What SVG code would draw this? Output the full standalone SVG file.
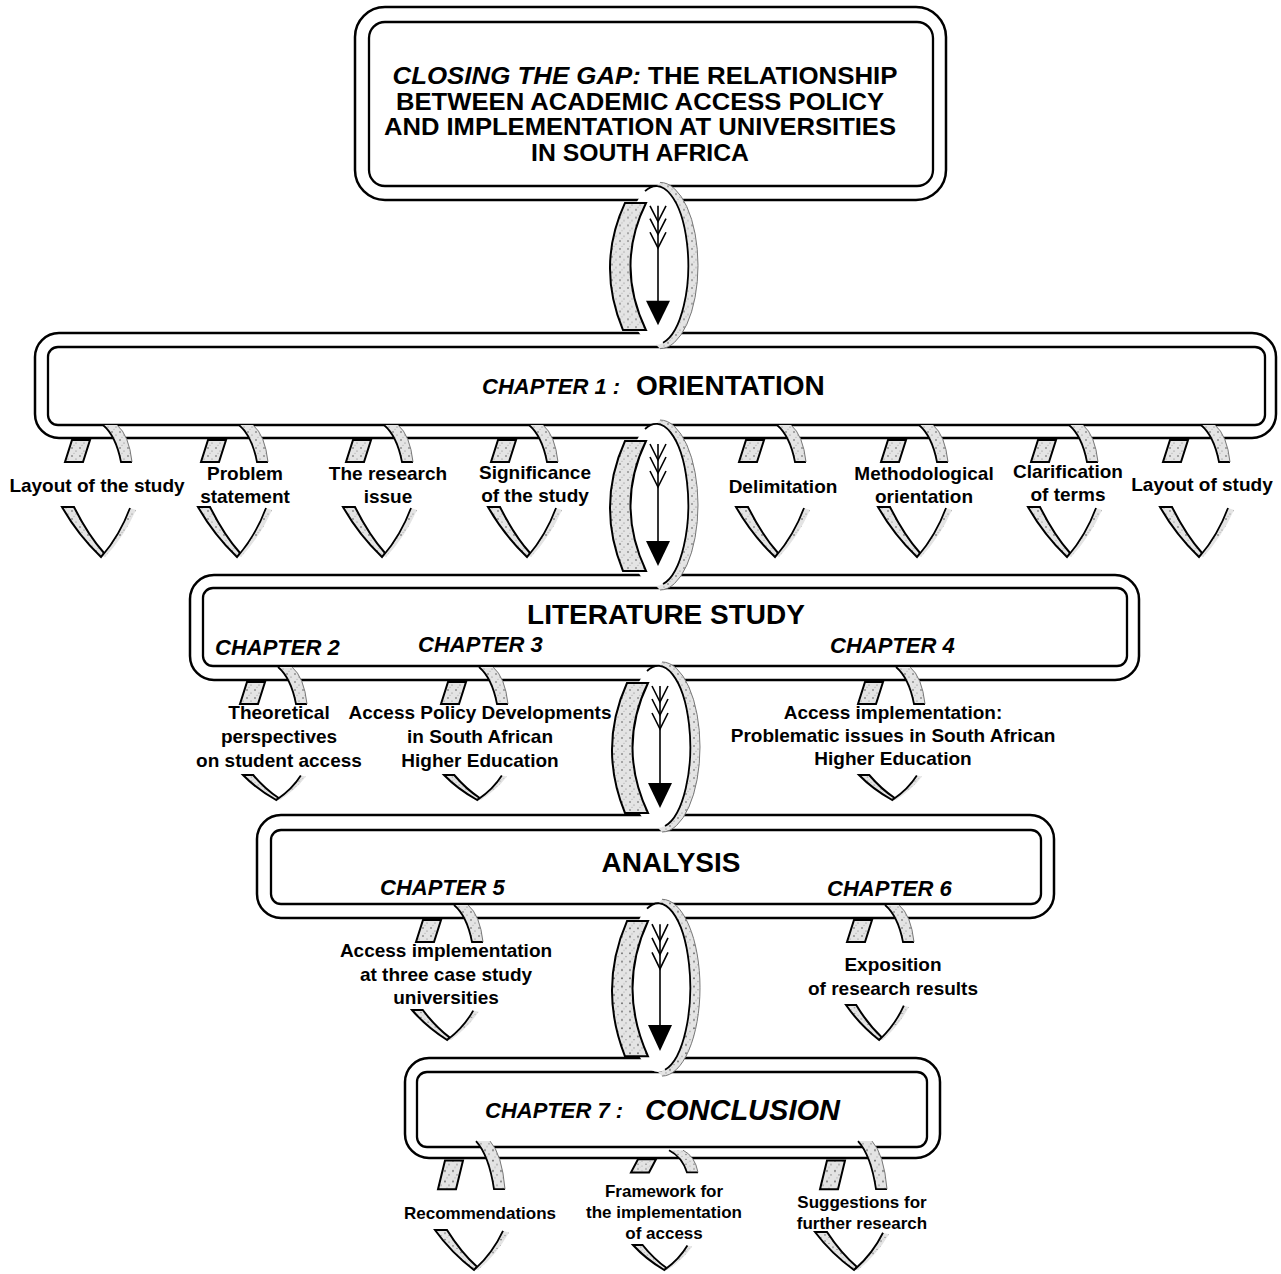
<svg xmlns="http://www.w3.org/2000/svg" xmlns:xlink="http://www.w3.org/1999/xlink" width="1281" height="1274" viewBox="0 0 1281 1274">
<style>
.bo{fill:#fff;stroke:#000;stroke-width:2.5}
.bi{fill:none;stroke:#000;stroke-width:2.3}
.t{font-family:"Liberation Sans",Arial,sans-serif;font-weight:bold;fill:#000}
.i{font-style:italic}
.lb{font-size:19px;text-anchor:middle}
.lc{font-size:17px;text-anchor:middle}
.ch{font-size:22px;font-style:italic}
.tt{font-size:23px;text-anchor:middle}
.sh{fill:url(#st)}
.k{stroke:#000;stroke-width:2;vector-effect:non-scaling-stroke}
.kf{fill:none;stroke:#000;stroke-width:1.8;vector-effect:non-scaling-stroke}
.kg{fill:none;stroke:#777;stroke-width:1;vector-effect:non-scaling-stroke}
</style>
<defs>
<pattern id="st" width="8" height="8" patternUnits="userSpaceOnUse">
<rect width="8" height="8" fill="#e4e4e4"/>
<circle cx="2" cy="2" r="0.8" fill="#555"/>
<circle cx="6" cy="5" r="0.6" fill="#777"/>
<circle cx="4" cy="7.2" r="0.5" fill="#999"/>
</pattern>
<g id="bigring">
<ellipse cx="-2" cy="67" rx="32" ry="81" fill="#fff"/>
<path class="sh" d="M -2 -14 A 32 81 0 0 1 -2 148 L 2 152 A 38 85 0 0 0 2 -18 Z"/>
<path class="kg" d="M 2 -18 A 38 85 0 0 1 2 152"/>
<path class="kf" d="M -13 -9 A 32 81 0 1 1 5 146"/>
<path class="sh k" d="M -33 3 L -12 3 Q -43 67 -12 133 L -35 133 Q -62 67 -33 3 Z"/>
<line x1="0" y1="6" x2="0" y2="106" stroke="#000" stroke-width="1.6"/>
<polyline points="-8,6 0,22 8,6" fill="none" stroke="#000" stroke-width="1.6"/>
<polyline points="-8,19 0,35 8,19" fill="none" stroke="#000" stroke-width="1.6"/>
<polyline points="-8,33 0,49 8,33" fill="none" stroke="#000" stroke-width="1.6"/>
<polygon points="-12,103 12,103 0,128" fill="#000"/>
</g>
<g id="su">
<path class="sh k" d="M -30 2 L -12 2 L -19 24 L -37 24 Z"/>
<path class="sh" d="M 1 -13 Q 14 -2 19 24 L 30 24 Q 27 -3 15 -13 Z"/>
<path class="kf" d="M 1 -13 Q 14 -2 19 24 L 30 24"/>
<path class="kg" d="M 30 24 Q 27 -3 15 -13"/>
</g>
<g id="sl">
<path class="sh k" d="M -40 -50 L -28 -50 Q -14 -22 2 -4 L -1 0 Q -24 -22 -40 -50 Z"/>
<path class="sh" d="M 28 -49 L 34 -47 Q 22 -20 3 0 L 0 -1 Q 18 -22 28 -49 Z"/>
<path class="kf" d="M 28 -49 Q 18 -22 0 -1"/>
</g>
</defs>
<rect width="1281" height="1274" fill="#fff"/>

<g id="title-box">
<rect class="bo" x="355" y="7" width="591" height="193" rx="30"/>
<rect class="bi" x="369" y="22" width="564" height="164" rx="16"/>
</g>
<g id="chapter1">
<rect class="bo" x="35" y="333" width="1241" height="105" rx="24"/>
<rect class="bi" x="48" y="347" width="1217" height="78" rx="10"/>
</g>
<g id="literature">
<rect class="bo" x="190" y="575" width="949" height="105" rx="24"/>
<rect class="bi" x="203" y="588" width="924" height="78" rx="10"/>
</g>
<g id="analysis">
<rect class="bo" x="257" y="815" width="797" height="103" rx="24"/>
<rect class="bi" x="271" y="830" width="770" height="74" rx="10"/>
</g>
<g id="conclusion">
<rect class="bo" x="405" y="1058" width="535" height="100" rx="24"/>
<rect class="bi" x="417" y="1072" width="510" height="75" rx="10"/>
</g>

<g id="connectors">
<use xlink:href="#bigring" transform="translate(658,200) scale(1,0.978)"/>
<use xlink:href="#bigring" transform="translate(658,438)"/>
<use xlink:href="#bigring" transform="translate(660,680)"/>
<use xlink:href="#bigring" transform="translate(660,918) scale(1,1.04)"/>
</g>

<g id="rings-ch1">
<use xlink:href="#su" transform="translate(102,438)"/><use xlink:href="#sl" transform="translate(102,557)"/>
<use xlink:href="#su" transform="translate(238,438)"/><use xlink:href="#sl" transform="translate(238,557)"/>
<use xlink:href="#su" transform="translate(383,438)"/><use xlink:href="#sl" transform="translate(383,557)"/>
<use xlink:href="#su" transform="translate(528,438)"/><use xlink:href="#sl" transform="translate(528,557)"/>
<use xlink:href="#su" transform="translate(776,438)"/><use xlink:href="#sl" transform="translate(776,557)"/>
<use xlink:href="#su" transform="translate(918,438)"/><use xlink:href="#sl" transform="translate(918,557)"/>
<use xlink:href="#su" transform="translate(1068,438)"/><use xlink:href="#sl" transform="translate(1068,557)"/>
<use xlink:href="#su" transform="translate(1200,438)"/><use xlink:href="#sl" transform="translate(1200,557)"/>
</g>
<g id="rings-lit">
<use xlink:href="#su" transform="translate(277,680)"/><use xlink:href="#sl" transform="translate(277,800) scale(0.85,0.5)"/>
<use xlink:href="#su" transform="translate(478,680)"/><use xlink:href="#sl" transform="translate(478,800) scale(0.85,0.5)"/>
<use xlink:href="#su" transform="translate(895,680)"/><use xlink:href="#sl" transform="translate(893,800) scale(0.85,0.5)"/>
</g>
<g id="rings-analysis">
<use xlink:href="#su" transform="translate(453,918)"/><use xlink:href="#sl" transform="translate(448,1040) scale(0.9,0.6)"/>
<use xlink:href="#su" transform="translate(884,918)"/><use xlink:href="#sl" transform="translate(880,1040) scale(0.85,0.7)"/>
</g>
<g id="rings-conclusion">
<use xlink:href="#su" transform="translate(475,1158) scale(1,1.3)"/><use xlink:href="#sl" transform="translate(475,1270) scale(1,0.8)"/>
<use xlink:href="#su" transform="translate(668,1158) scale(1,0.6)"/><use xlink:href="#sl" transform="translate(665,1270) scale(0.8,0.5)"/>
<use xlink:href="#su" transform="translate(857,1158) scale(1,1.3)"/><use xlink:href="#sl" transform="translate(855,1270) scale(1,0.76)"/>
</g>

<g id="texts">
<text class="t tt" x="645" y="84" textLength="505" lengthAdjust="spacingAndGlyphs"><tspan class="i">CLOSING THE GAP:</tspan> THE RELATIONSHIP</text>
<text class="t tt" x="640" y="110" textLength="488" lengthAdjust="spacingAndGlyphs">BETWEEN ACADEMIC ACCESS POLICY</text>
<text class="t tt" x="640" y="135" textLength="512" lengthAdjust="spacingAndGlyphs">AND IMPLEMENTATION AT UNIVERSITIES</text>
<text class="t tt" x="640" y="161" textLength="218" lengthAdjust="spacingAndGlyphs">IN SOUTH AFRICA</text>

<text class="t ch" x="482" y="394">CHAPTER 1 :</text>
<text class="t" x="636" y="395" font-size="28">ORIENTATION</text>

<text class="t lb" x="97" y="492">Layout of the study</text>
<text class="t lb" x="245" y="480">Problem</text><text class="t lb" x="245" y="503">statement</text>
<text class="t lb" x="388" y="480">The research</text><text class="t lb" x="388" y="503">issue</text>
<text class="t lb" x="535" y="479">Significance</text><text class="t lb" x="535" y="502">of the study</text>
<text class="t lb" x="783" y="493">Delimitation</text>
<text class="t lb" x="924" y="480">Methodological</text><text class="t lb" x="924" y="503">orientation</text>
<text class="t lb" x="1068" y="478">Clarification</text><text class="t lb" x="1068" y="501">of terms</text>
<text class="t lb" x="1202" y="491">Layout of study</text>

<text class="t" x="666" y="624" font-size="28" text-anchor="middle">LITERATURE STUDY</text>
<text class="t ch" x="215" y="655">CHAPTER 2</text>
<text class="t ch" x="418" y="652">CHAPTER 3</text>
<text class="t ch" x="830" y="653">CHAPTER 4</text>

<text class="t lb" x="279" y="719">Theoretical</text><text class="t lb" x="279" y="743">perspectives</text><text class="t lb" x="279" y="767">on student access</text>
<text class="t lb" x="480" y="719">Access Policy Developments</text><text class="t lb" x="480" y="743">in South African</text><text class="t lb" x="480" y="767">Higher Education</text>
<text class="t lb" x="893" y="719">Access implementation:</text><text class="t lb" x="893" y="742">Problematic issues in South African</text><text class="t lb" x="893" y="765">Higher Education</text>

<text class="t" x="671" y="872" font-size="28" text-anchor="middle">ANALYSIS</text>
<text class="t ch" x="380" y="895">CHAPTER 5</text>
<text class="t ch" x="827" y="896">CHAPTER 6</text>

<text class="t lb" x="446" y="957">Access implementation</text><text class="t lb" x="446" y="981">at three case study</text><text class="t lb" x="446" y="1004">universities</text>
<text class="t lb" x="893" y="971">Exposition</text><text class="t lb" x="893" y="995">of research results</text>

<text class="t ch" x="485" y="1118">CHAPTER 7 :</text>
<text class="t i" x="645" y="1120" font-size="29">CONCLUSION</text>

<text class="t lc" x="480" y="1219">Recommendations</text>
<text class="t lc" x="664" y="1197">Framework for</text><text class="t lc" x="664" y="1218">the implementation</text><text class="t lc" x="664" y="1239">of access</text>
<text class="t lc" x="862" y="1208">Suggestions for</text><text class="t lc" x="862" y="1229">further research</text>
</g>
</svg>
